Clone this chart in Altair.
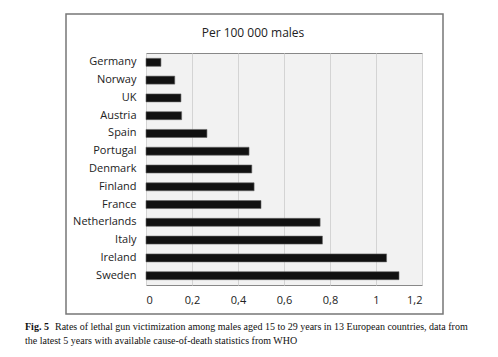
import altair as alt
import pandas as pd

countries = ["Germany", "Norway", "UK", "Austria", "Spain", "Portugal", "Denmark",
             "Finland", "France", "Netherlands", "Italy", "Ireland", "Sweden"]
rates = [0.065, 0.125, 0.152, 0.155, 0.265, 0.448, 0.46, 0.47, 0.50, 0.757, 0.767, 1.046, 1.10]
x_ticks = [0, 0.2, 0.4, 0.6, 0.8, 1.0, 1.2]

df = pd.DataFrame({"country": countries, "rate": rates})
one = pd.DataFrame({"k": [0]})

FONT = "Open Sans"

bars = alt.Chart(df).mark_bar(color="#111111", stroke="#666666", strokeWidth=0.6).encode(
    x=alt.X("rate:Q", scale=alt.Scale(domain=[0, 1.2], nice=False),
            axis=alt.Axis(values=x_ticks, title=None, ticks=False, domain=False,
                          labelExpr="replace(format(datum.value, '~g'), '.', ',')",
                          labelFont=FONT, labelFontSize=11, labelColor="#222",
                          labelPadding=9, grid=True, gridColor="#d4d4d4")),
    y=alt.Y("country:N", sort=countries,
            scale=alt.Scale(paddingInner=0.55, paddingOuter=0.3),
            axis=alt.Axis(title=None, ticks=False, domain=False, labelFont=FONT,
                          labelFontSize=11, labelColor="#222", labelPadding=10)),
)

frame = alt.Chart(one).mark_rect(fill=None, stroke="#777777", strokeWidth=1.5).encode(
    x=alt.value(-80), x2=alt.value(297), y=alt.value(-39), y2=alt.value(261))

subtitle = alt.Chart(one).mark_text(font=FONT, fontSize=12, color="#222").encode(
    x=alt.value(107), y=alt.value(-20), text=alt.value("Per 100 000 males"))

SERIF = "Liberation Serif"
cap_bold = alt.Chart(one).mark_text(font=SERIF, fontSize=10, fontWeight="bold",
                                   align="left", color="#111").encode(
    x=alt.value(-121), y=alt.value(274), text=alt.value("Fig. 5"))
cap1 = alt.Chart(one).mark_text(font=SERIF, fontSize=10, align="left", color="#111").encode(
    x=alt.value(-91), y=alt.value(274),
    text=alt.value("Rates of lethal gun victimization among males aged 15 to 29 years in 13 European countries, data from"))
cap2 = alt.Chart(one).mark_text(font=SERIF, fontSize=10, align="left", color="#111").encode(
    x=alt.value(-121), y=alt.value(288),
    text=alt.value("the latest 5 years with available cause-of-death statistics from WHO"))

chart = alt.layer(frame, bars, subtitle, cap_bold, cap1, cap2).properties(
    width=276, height=232,
    autosize=alt.AutoSizeParams(type="none"),
    padding={"left": 146, "top": 53, "right": 76, "bottom": 72},
    background="white",
).configure_view(fill="#f2f2f2", stroke="#888888", strokeWidth=1)

chart.save("out.html", embed_options={"renderer": "svg", "actions": False})
